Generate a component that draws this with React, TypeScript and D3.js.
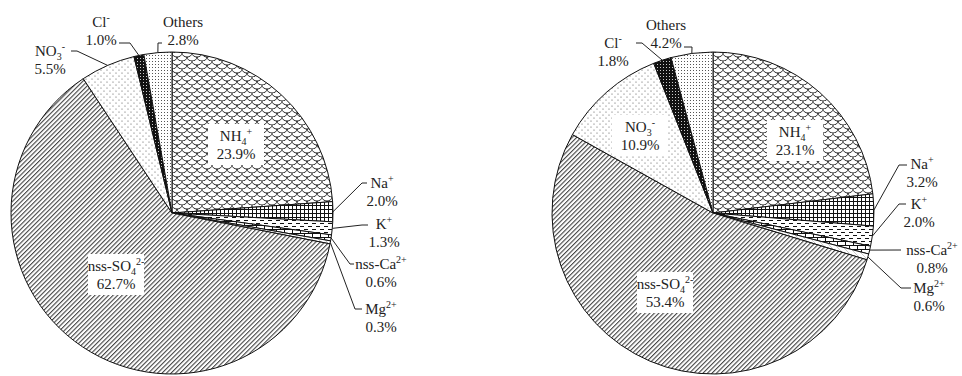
import * as d3 from "d3";

const WIDTH = 962;
const HEIGHT = 376;
const RADIUS = 161;

// ions in clockwise order starting at 12 o'clock
const CATEGORIES = ["NH4+", "Na+", "K+", "nss-Ca2+", "Mg2+", "nss-SO42-", "NO3-", "Cl-", "Others"];
const SHARE_A = [23.9, 2.0, 1.3, 0.6, 0.3, 62.7, 5.5, 1.0, 2.8];
const SHARE_B = [23.1, 3.2, 2.0, 0.8, 0.6, 53.4, 10.9, 1.8, 4.2];

type Part = { t: string; s?: "sub" | "sup" };
const LABEL_PARTS: Record<string, Part[]> = {
  "NH4+": [{ t: "NH" }, { t: "4", s: "sub" }, { t: "+", s: "sup" }],
  "Na+": [{ t: "Na" }, { t: "+", s: "sup" }],
  "K+": [{ t: "K" }, { t: "+", s: "sup" }],
  "nss-Ca2+": [{ t: "nss-Ca" }, { t: "2+", s: "sup" }],
  "Mg2+": [{ t: "Mg" }, { t: "2+", s: "sup" }],
  "nss-SO42-": [{ t: "nss-SO" }, { t: "4", s: "sub" }, { t: "2-", s: "sup" }],
  "NO3-": [{ t: "NO" }, { t: "3", s: "sub" }, { t: "-", s: "sup" }],
  "Cl-": [{ t: "Cl" }, { t: "-", s: "sup" }],
  Others: [{ t: "Others" }],
};

const FILLS = ["scales", "grid", "dashes", "bricks", "plain", "hatch", "dotsSparse", "dark", "dotsDense"];

// label layout, relative to the pie centre; leader elbows run text -> rim
type LabelLayout = { dx: number; dy: number; inside?: boolean; leader?: [number, number][] };

const LAYOUT_A: LabelLayout[] = [
  { dx: 64, dy: -77, inside: true },
  { dx: 210, dy: -30, leader: [[195, -30], [190, -30]] },
  { dx: 212, dy: 11, leader: [[196, 12], [190, 12]] },
  { dx: 209, dy: 51, leader: [[182, 51], [178, 51]] },
  { dx: 209, dy: 96, leader: [[190, 96], [183, 96]] },
  { dx: -56, dy: 53, inside: true },
  { dx: -122, dy: -162, leader: [[-101, -162], [-95, -162]] },
  { dx: -71, dy: -191, leader: [[-53, -170], [-42, -170]] },
  { dx: 11, dy: -191, leader: [[-10, -170], [-14, -170]] },
];

const LAYOUT_B: LabelLayout[] = [
  { dx: 82, dy: -81, inside: true },
  { dx: 209, dy: -49, leader: [[194, -48], [186, -48]] },
  { dx: 206, dy: -9, leader: [[193, -9], [186, -9]] },
  { dx: 219, dy: 37, leader: [[188, 37]] },
  { dx: 216, dy: 75, leader: [[198, 75], [188, 75]] },
  { dx: -48, dy: 71, inside: true },
  { dx: -73, dy: -86, inside: true },
  { dx: -100, dy: -170, leader: [[-77, -170], [-71, -170]] },
  { dx: -47, dy: -188, leader: [[-29, -166], [-21, -166]] },
];

const FONT = "'Liberation Serif', 'Times New Roman', serif";
const FONT_SIZE = 15;
const LINE_GAP = 18;

const pieGen = d3.pie<number>().sort(null).value((d) => d);
const arcGen = d3.arc<d3.PieArcDatum<number>>().innerRadius(0).outerRadius(RADIUS);
const rimGen = d3.arc<d3.PieArcDatum<number>>().innerRadius(RADIUS).outerRadius(RADIUS);

const RichLabel = ({ name, pct, x, y }: { name: string; pct: number; x: number; y: number }) => {
  let shift = 0;
  const spans = LABEL_PARTS[name].map((p, i) => {
    const target = p.s === "sub" ? 4 : p.s === "sup" ? -6 : 0;
    const dy = target - shift;
    shift = target;
    return (
      <tspan key={i} dy={dy} fontSize={p.s ? 10 : FONT_SIZE}>
        {p.t}
      </tspan>
    );
  });
  return (
    <g fontFamily={FONT} fontSize={FONT_SIZE} fill="#222" textAnchor="middle">
      <text x={x} y={y + 5}>{spans}</text>
      <text x={x} y={y + 5 + LINE_GAP}>{pct.toFixed(1)}%</text>
    </g>
  );
};

const Pie = ({ cx, cy, values, layout }: { cx: number; cy: number; values: number[]; layout: LabelLayout[] }) => {
  const arcs = pieGen(values);
  return (
    <g transform={`translate(${cx},${cy})`}>
      {arcs.map((a, i) => (
        <path
          key={i}
          d={arcGen(a) ?? ""}
          fill={`url(#${FILLS[i]})`}
          stroke="#111"
          strokeWidth={1}
          strokeLinejoin="round"
        />
      ))}
      {arcs.map((a, i) => {
        const l = layout[i];
        if (l.inside || !l.leader) return null;
        const rim = rimGen.centroid(a);
        const pts = [...l.leader, rim];
        return (
          <polyline
            key={`l${i}`}
            points={pts.map((p) => p.join(",")).join(" ")}
            fill="none"
            stroke="#222"
            strokeWidth={1}
          />
        );
      })}
      {arcs.map((a, i) => {
        const l = layout[i];
        return (
          <g key={`t${i}`}>
            {l.inside && (
              <rect x={l.dx - 28} y={l.dy - 12} width={56} height={41} fill="white" />
            )}
            <RichLabel name={CATEGORIES[i]} pct={values[i]} x={l.dx} y={l.dy} />
          </g>
        );
      })}
    </g>
  );
};

export default function App() {
  return (
    <svg
      width={WIDTH}
      height={HEIGHT}
      style={{ position: "absolute", left: 0, top: 0, background: "white" }}
    >
      <defs>
        <pattern id="scales" patternUnits="userSpaceOnUse" width={10} height={8}>
          <rect width={10} height={8} fill="white" />
          <path
            d="M0,0 A5,4 0 0 0 10,0 M-5,4 A5,4 0 0 0 5,4 M5,4 A5,4 0 0 0 15,4"
            fill="none"
            stroke="#111"
            strokeWidth={0.9}
          />
        </pattern>
        <pattern id="grid" patternUnits="userSpaceOnUse" width={4} height={4}>
          <rect width={4} height={4} fill="white" />
          <path d="M0,0.5 H4 M0.5,0 V4" stroke="#111" strokeWidth={1} />
        </pattern>
        <pattern id="dashes" patternUnits="userSpaceOnUse" width={8} height={6}>
          <rect width={8} height={6} fill="white" />
          <path d="M0,1.5 H4 M4,4.5 H8" stroke="#111" strokeWidth={1} />
        </pattern>
        <pattern id="bricks" patternUnits="userSpaceOnUse" width={8} height={8}>
          <rect width={8} height={8} fill="white" />
          <path d="M0,0.5 H8 M0,4.5 H8 M0.5,0 V4 M4.5,4 V8" stroke="#111" strokeWidth={1} />
        </pattern>
        <pattern id="plain" patternUnits="userSpaceOnUse" width={6} height={6}>
          <rect width={6} height={6} fill="white" />
          <path d="M0,0 L6,6" stroke="#999" strokeWidth={0.5} />
        </pattern>
        <pattern
          id="hatch"
          patternUnits="userSpaceOnUse"
          width={3.2}
          height={10}
          patternTransform="rotate(45)"
        >
          <rect width={3.2} height={10} fill="white" />
          <rect width={1.1} height={10} fill="#444" />
        </pattern>
        <pattern id="dotsSparse" patternUnits="userSpaceOnUse" width={6} height={6}>
          <rect width={6} height={6} fill="white" />
          <circle cx={1} cy={1} r={0.6} fill="#555" />
          <circle cx={4} cy={4} r={0.6} fill="#555" />
        </pattern>
        <pattern id="dark" patternUnits="userSpaceOnUse" width={3} height={3}>
          <rect width={3} height={3} fill="#111" />
          <rect x={1} y={1} width={1} height={1} fill="#ccc" />
        </pattern>
        <pattern id="dotsDense" patternUnits="userSpaceOnUse" width={3} height={3}>
          <rect width={3} height={3} fill="white" />
          <rect x={1} y={1} width={1} height={1} fill="#555" />
        </pattern>
      </defs>
      <Pie cx={172} cy={213} values={SHARE_A} layout={LAYOUT_A} />
      <Pie cx={713} cy={213} values={SHARE_B} layout={LAYOUT_B} />
    </svg>
  );
}
